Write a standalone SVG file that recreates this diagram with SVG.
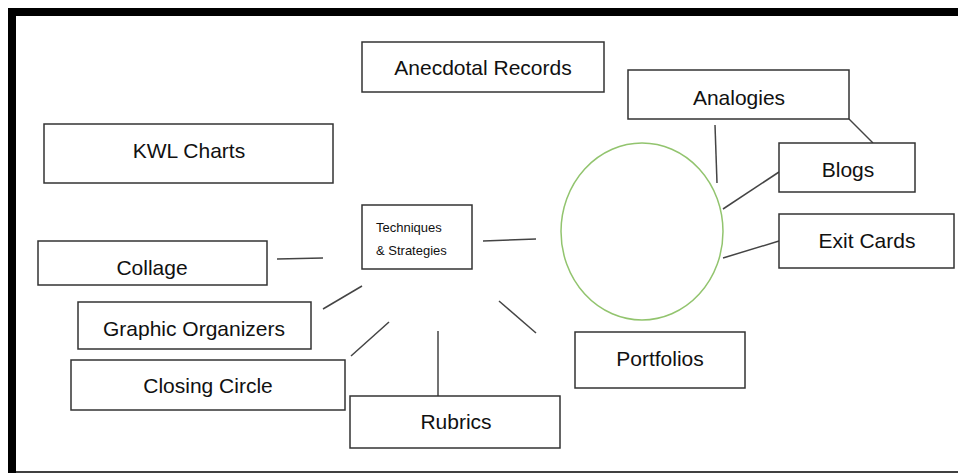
<svg xmlns="http://www.w3.org/2000/svg" width="958" height="473" viewBox="0 0 958 473">
<style>
.box{fill:#fff;stroke:#333;stroke-width:1.5}
.lbl{font-family:"Liberation Sans",Arial,sans-serif;font-size:21px;fill:#111;text-anchor:middle}
.sm{font-family:"Liberation Sans",Arial,sans-serif;font-size:13px;fill:#111}
.con line{stroke:#444;stroke-width:1.5}
</style>
<rect x="0" y="0" width="958" height="473" fill="#fff"/>
<rect x="8" y="8" width="950" height="8" fill="#000"/>
<rect x="8" y="8" width="8" height="465" fill="#000"/>
<line x1="16" y1="472" x2="958" y2="472" stroke="#000" stroke-width="1.5"/>
<g class="con">
<line x1="849" y1="119" x2="873" y2="143"/>
<line x1="715" y1="125" x2="717" y2="183"/>
<line x1="779" y1="172" x2="723" y2="209"/>
<line x1="779" y1="241" x2="723" y2="258"/>
<line x1="483" y1="241" x2="536" y2="239"/>
<line x1="499" y1="301" x2="536" y2="333"/>
<line x1="438" y1="331" x2="438" y2="396"/>
<line x1="389" y1="322" x2="351" y2="356"/>
<line x1="362" y1="286" x2="323" y2="309"/>
<line x1="277" y1="259" x2="323" y2="258"/>
</g>
<g id="circle"><ellipse cx="642" cy="231.5" rx="81" ry="88.5" fill="none" stroke="#92c46e" stroke-width="1.5"/></g>
<g id="anecdotal"><rect class="box" x="362" y="42" width="242" height="50"/><text class="lbl" x="483" y="75">Anecdotal Records</text></g>
<g id="kwl"><rect class="box" x="44" y="124" width="289" height="59"/><text class="lbl" x="189" y="158">KWL Charts</text></g>
<g id="analogies"><rect class="box" x="628" y="70" width="221" height="49"/><text class="lbl" x="739" y="105">Analogies</text></g>
<g id="blogs"><rect class="box" x="779" y="143" width="136" height="49"/><text class="lbl" x="848" y="177">Blogs</text></g>
<g id="exit"><rect class="box" x="779" y="214" width="175" height="54"/><text class="lbl" x="867" y="248">Exit Cards</text></g>
<g id="techniques"><rect class="box" x="362" y="205" width="110" height="64"/><text class="sm" x="376" y="232">Techniques</text><text class="sm" x="376" y="255">&amp; Strategies</text></g>
<g id="collage"><rect class="box" x="38" y="241" width="229" height="44"/><text class="lbl" x="152" y="275">Collage</text></g>
<g id="graphic"><rect class="box" x="78" y="302" width="233" height="47"/><text class="lbl" x="194" y="336">Graphic Organizers</text></g>
<g id="closing"><rect class="box" x="71" y="360" width="274" height="50"/><text class="lbl" x="208" y="393">Closing Circle</text></g>
<g id="portfolios"><rect class="box" x="575" y="332" width="170" height="56"/><text class="lbl" x="660" y="366">Portfolios</text></g>
<g id="rubrics"><rect class="box" x="350" y="396" width="210" height="52"/><text class="lbl" x="456" y="429">Rubrics</text></g>
</svg>
